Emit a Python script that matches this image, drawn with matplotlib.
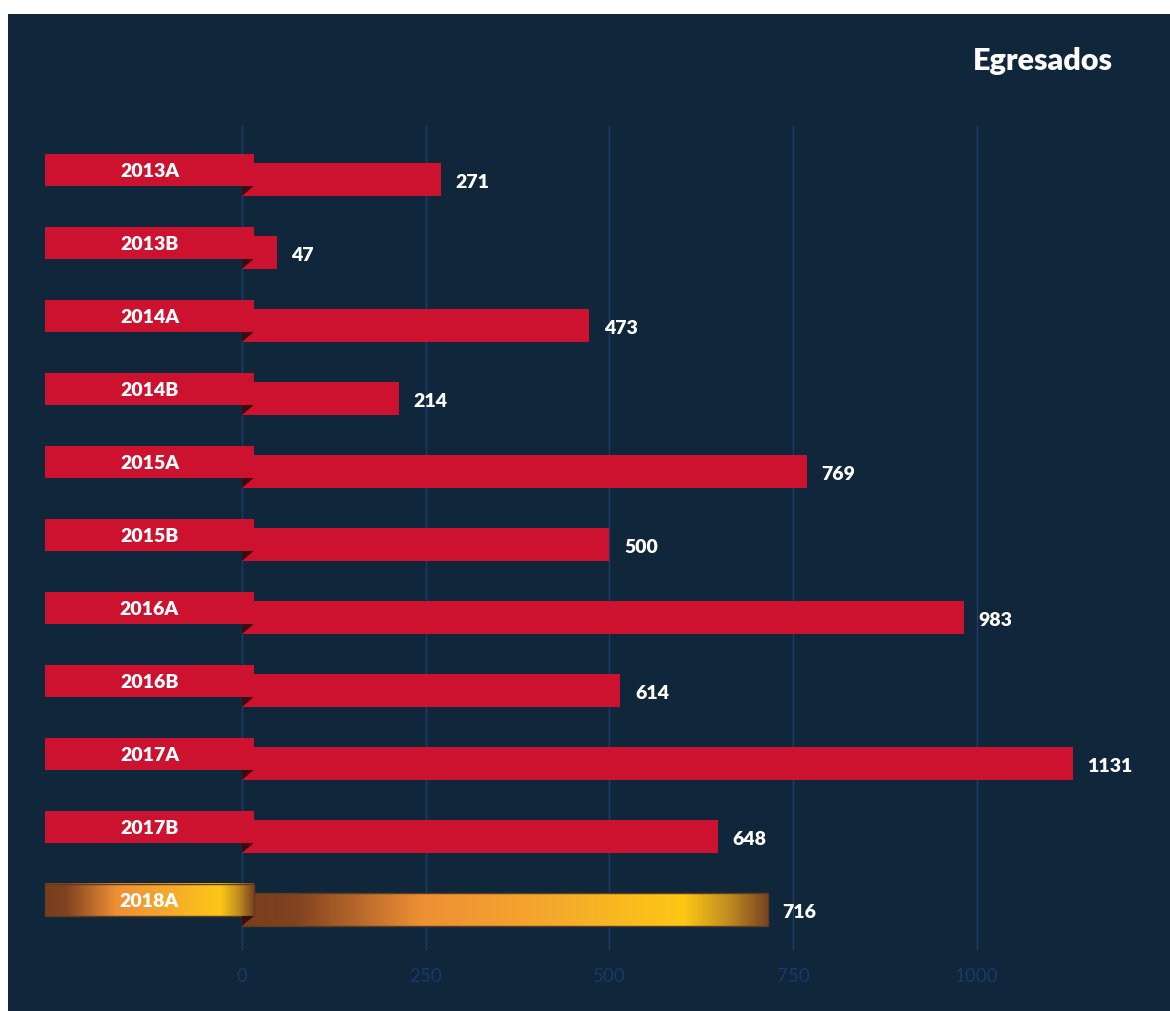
import matplotlib
matplotlib.use("Agg")
from matplotlib import pyplot as plt
from matplotlib.patches import Rectangle, Polygon
from matplotlib.colors import LinearSegmentedColormap
import numpy as np

# data (bar lengths; 2016B bar is drawn shorter than its label)
periods = ["2013A", "2013B", "2014A", "2014B", "2015A", "2015B",
           "2016A", "2016B", "2017A", "2017B", "2018A"]
bar_values = [271, 47, 473, 214, 769, 500, 983, 515, 1131, 648, 716]
value_labels = ["271", "47", "473", "214", "769", "500", "983", "614", "1131", "648", "716"]
ticks = [0, 250, 500, 750, 1000]
title = "Egresados"

bg = "#10263a"
red = "#cd1230"
grid_col = "#1b3d6b"
fold_col = "#3c0b12"

gold = LinearSegmentedColormap.from_list("gold", [
    (0.0, "#7a3e1d"), (0.1, "#804220"), (0.34, "#ee8f35"), (0.6, "#f5aa2c"),
    (0.84, "#fdc814"), (0.93, "#c08a22"), (1.0, "#7a4520")])

W, H = 1170, 1011
px = 0.7345          # pixels per unit
row = 73.0           # pixels per row
x_zero = 242.0       # pixel of value 0
top_px = 14

fig = plt.figure(figsize=(W / 100, H / 100), dpi=100)
fig.patch.set_facecolor("white")
ax = fig.add_axes([8 / W, 0, (W - 8) / W, (H - top_px) / H])
ax.set_facecolor(bg)
for s in ax.spines.values():
    s.set_visible(False)
ax.set_xticks([])
ax.set_yticks([])

y_top = -(179.5 - top_px) / row
y_bot = y_top + (H - top_px) / row

# grid lines
ax.vlines(ticks, -0.747, 10.555, color=grid_col, lw=1, zorder=1)
for t in ticks:
    ax.text(t, 10.92, str(t), color="#19396a", fontsize=13.5, ha="center",
            va="center", fontfamily="Lato", fontweight="normal")

tab_x0 = -268
tab_x1 = 16
tab_off = -9.5 / row
tab_h = 32 / row
bar_h = 33 / row
grad = np.linspace(0, 1, 256).reshape(1, -1)

for i, (p, v, lab) in enumerate(zip(periods, bar_values, value_labels)):
    last = i == len(periods) - 1
    tab_top = i + tab_off - tab_h / 2
    tab_bottom = i + tab_off + tab_h / 2
    bar_top = i - bar_h / 2
    bar_bottom = i + bar_h / 2
    if last:
        ax.imshow(grad, cmap=gold, extent=(0, v, bar_bottom, bar_top),
                  aspect="auto", interpolation="bicubic", zorder=2)
        ax.add_patch(Rectangle((0, bar_top), v, bar_h, fill=False,
                               edgecolor="#5e3c1e", lw=1, zorder=2.1))
        ax.imshow(grad, cmap=gold, extent=(tab_x0, tab_x1, tab_bottom, tab_top),
                  aspect="auto", interpolation="bicubic", zorder=3)
        ax.add_patch(Rectangle((tab_x0, tab_top), tab_x1 - tab_x0, tab_h, fill=False,
                               edgecolor="#5e3c1e", lw=1, zorder=3.1))
    else:
        ax.add_patch(Rectangle((0, bar_top), v, bar_h, color=red, lw=0, zorder=2))
        ax.add_patch(Rectangle((tab_x0, tab_top), tab_x1 - tab_x0, tab_h,
                               color=red, lw=0, zorder=3))
    # folded corner
    ax.add_patch(Polygon([(0, tab_bottom), (tab_x1, tab_bottom), (0, bar_bottom)],
                         closed=True, color=fold_col, lw=0, zorder=4))
    ax.text((tab_x0 + tab_x1) / 2, i + tab_off + 0.025, p, color="white", fontsize=14,
            fontweight="heavy", fontfamily="Lato", ha="center", va="center", zorder=5)
    ax.text(v + 20, i + 0.045, lab, color="white", fontsize=14,
            fontweight="heavy", fontfamily="Lato", ha="left", va="center", zorder=5)

ax.set_xlim((8 - x_zero) / px, (W - x_zero) / px)
ax.set_ylim(y_bot, y_top)

fig.text(1113 / W, 1 - 61 / H, title, color="white", fontsize=22,
         fontweight="heavy", fontfamily="Lato", ha="right", va="center")

fig.savefig("out.png", dpi=100, facecolor=fig.get_facecolor())
